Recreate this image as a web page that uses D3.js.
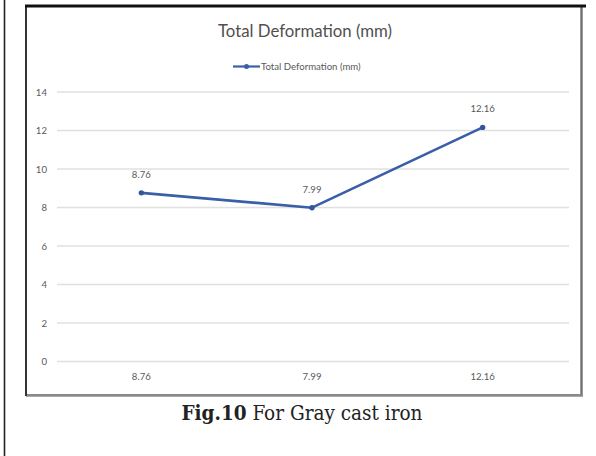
<!DOCTYPE html>
<html><head><meta charset="utf-8">
<script src="https://cdn.jsdelivr.net/npm/d3@7"></script>
<style>body{margin:0;background:#fff}svg{display:block}</style>
</head><body>
<svg id="c" width="596" height="456"></svg>
<script>
const categories = ["8.76", "7.99", "12.16"];
const values = [8.76, 7.99, 12.16];
const valueLabels = ["8.76", "7.99", "12.16"];
const yTicks = [0, 2, 4, 6, 8, 10, 12, 14];
const seriesName = "Total Deformation (mm)";
const chartTitle = "Total Deformation (mm)";
const captionBold = "Fig.10";
const captionRest = " For Gray cast iron";

const svg = d3.select("#c");
const lblFont = "Lato, 'Open Sans', sans-serif";
// page frame lines
svg.append("line").attr("x1",4.5).attr("x2",4.5).attr("y1",0).attr("y2",456).attr("stroke","#222").attr("stroke-width",1.6);
svg.append("rect").attr("x",26).attr("y",6).attr("width",555.5).attr("height",389)
  .attr("fill","#fff").attr("stroke","#7a7a7a").attr("stroke-width",2);
svg.append("line").attr("x1",581.5).attr("x2",581.5).attr("y1",6).attr("y2",396).attr("stroke","#6e6e6e").attr("stroke-width",1.8);
svg.append("line").attr("x1",26).attr("x2",583).attr("y1",395.5).attr("y2",395.5).attr("stroke","#8c8c8c").attr("stroke-width",2.5);
svg.append("line").attr("x1",26).attr("x2",26).attr("y1",6).attr("y2",396).attr("stroke","#222").attr("stroke-width",1.6);
svg.append("line").attr("x1",25).attr("x2",586).attr("y1",6).attr("y2",6).attr("stroke","#111").attr("stroke-width",3);

const x = d3.scaleBand().domain(categories).range([56, 568]);
const y = d3.scaleLinear().domain([0, 14]).range([361.5, 92]);

// title
svg.append("text").attr("x",305).attr("y",37).attr("text-anchor","middle")
  .attr("font-family",lblFont).attr("font-size",16.8).attr("fill","#505050").text(chartTitle);

// legend
const lg = svg.append("g");
lg.append("line").attr("x1",233).attr("x2",260).attr("y1",66.5).attr("y2",66.5).attr("stroke","#3b5ea8").attr("stroke-width",2.2);
lg.append("circle").attr("cx",246.5).attr("cy",66.5).attr("r",2.5).attr("fill","#3b5ea8");
lg.append("text").attr("x",261).attr("y",69.8).attr("font-family",lblFont).attr("font-size",9.6).attr("fill","#595959").text(seriesName);

// gridlines
svg.append("g").selectAll("line").data(yTicks).join("line")
  .attr("x1",57).attr("x2",569).attr("y1",d=>y(d)).attr("y2",d=>y(d))
  .attr("stroke","#e0e0e0").attr("stroke-width",1.3);

// y axis
const ya = svg.append("g").attr("transform","translate(47,0)")
  .call(d3.axisLeft(y).tickValues(yTicks).tickSize(0).tickPadding(0));
ya.select(".domain").remove();
ya.selectAll("text").attr("font-family",lblFont).attr("font-size",9.6).attr("fill","#595959");

// x axis
const xa = svg.append("g").attr("transform","translate(0,373)")
  .call(d3.axisBottom(x).tickSize(0).tickPadding(0));
xa.select(".domain").remove();
xa.selectAll("text").text((d,i)=>categories[i]).attr("font-family",lblFont).attr("font-size",9.6).attr("fill","#595959");

// line
const pts = categories.map((c,i)=>({c, v: values[i], l: valueLabels[i]}));
svg.append("path").datum(pts)
  .attr("d", d3.line().x(d=>x(d.c)+x.bandwidth()/2).y(d=>y(d.v)))
  .attr("fill","none").attr("stroke","#3b5ea8").attr("stroke-width",2.6).attr("stroke-linejoin","round");
svg.append("g").selectAll("circle").data(pts).join("circle")
  .attr("cx",d=>x(d.c)+x.bandwidth()/2).attr("cy",d=>y(d.v)).attr("r",2.7).attr("fill","#34559a");
svg.append("g").selectAll("text").data(pts).join("text")
  .attr("x",d=>x(d.c)+x.bandwidth()/2).attr("y",d=>y(d.v)-15)
  .attr("text-anchor","middle").attr("font-family",lblFont).attr("font-size",9.6).attr("fill","#595959").text(d=>d.l);

// caption
const cap = svg.append("text").attr("x",302).attr("y",419.5).attr("text-anchor","middle")
  .attr("font-family","'DejaVu Serif Condensed', 'DejaVu Serif', serif").attr("font-stretch","condensed")
  .attr("font-size",20.5).attr("fill","#222");
cap.append("tspan").attr("font-weight","bold").text(captionBold);
cap.append("tspan").text(captionRest);
</script>
</body></html>
